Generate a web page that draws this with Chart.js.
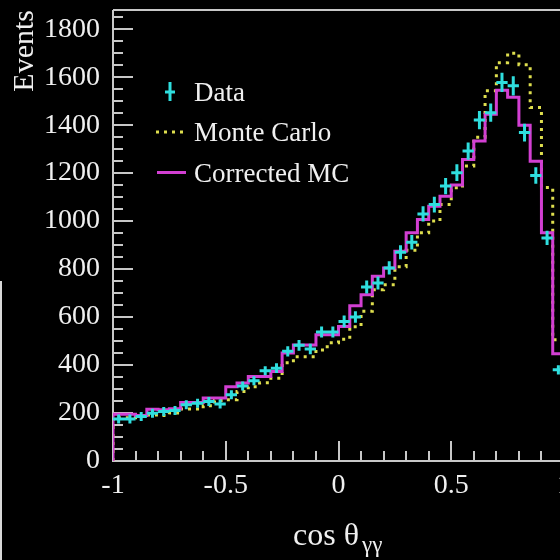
<!DOCTYPE html>
<html><head><meta charset="utf-8">
<script src="https://cdn.jsdelivr.net/npm/chart.js@4"></script>
<style>
html,body{margin:0;padding:0;background:#000;overflow:hidden;width:560px;height:560px}
#wrap{position:absolute;left:0;top:0;width:600px;height:560px}
</style>
</head><body><div id="wrap"><canvas id="c" width="600" height="560"></canvas></div>
<script>
// ---- data ----
const binEdges = [-1,-0.95,-0.9,-0.85,-0.8,-0.75,-0.7,-0.65,-0.6,-0.55,-0.5,-0.45,-0.4,-0.35,-0.3,-0.25,-0.2,-0.15,-0.1,-0.05,0,0.05,0.1,0.15,0.2,0.25,0.3,0.35,0.4,0.45,0.5,0.55,0.6,0.65,0.7,0.75,0.8,0.85,0.9,0.95,1];
const dataCounts = [175,175,185,199,206,210,234,241,248,238,276,313,335,376,387,457,482,467,538,538,582,600,725,742,805,870,912,1030,1069,1146,1202,1292,1421,1452,1578,1564,1369,1190,930,380];
const dataErrors = [13,13,14,14,14,15,15,16,16,15,17,18,18,19,20,21,22,22,23,23,24,24,27,27,28,29,30,32,33,34,35,36,38,38,40,40,37,34,30,19];
const monteCarlo = [180,180,185,192,190,200,217,217,230,252,255,290,310,326,345,410,435,435,463,493,508,560,624,714,735,810,878,951,1000,1069,1139,1230,1350,1543,1660,1700,1652,1474,1140,505];
const correctedMC = [195,195,190,216,214,218,244,244,263,263,310,325,352,352,373,450,484,484,526,526,561,647,693,770,805,874,951,1007,1062,1104,1150,1257,1334,1445,1545,1516,1400,1250,951,447];
const seriesNames = ['Data','Monte Carlo','Corrected MC'];
const xTickLabels = ['-1','-0.5','0','0.5','1'];
const yTickLabels = ['0','200','400','600','800','1000','1200','1400','1600','1800'];
const yTitle = 'Events';
const xTitleMain = 'cos θ';
const xTitleSub = 'γγ';

// ---- styles ----
const FONT = "'Liberation Serif','Times New Roman',serif";
const TXT = '#f0f0f0';
const AXIS = '#c8c8c8';
const CYAN = '#2fdede';
const MAGENTA = '#d23fd2';
const YELLOW = '#dede4e';

function stepPoints(vals){
  const pts=[{x:binEdges[0],y:0}];
  vals.forEach((v,i)=>pts.push({x:binEdges[i],y:v}));
  pts.push({x:binEdges[vals.length],y:vals[vals.length-1]});
  return pts;
}
const dataPoints = dataCounts.map((v,i)=>({x:(binEdges[i]+binEdges[i+1])/2,y:v}));

const framePlugin = {
  id:'frame',
  beforeDatasetsDraw(chart){
    const {ctx,chartArea:{left,right,top,bottom}} = chart;
    const xs=chart.scales.x, ys=chart.scales.y;
    ctx.save();
    ctx.strokeStyle=AXIS; ctx.lineWidth=2;
    ctx.beginPath();
    ctx.moveTo(left,top); ctx.lineTo(chart.width,top);
    ctx.moveTo(left,top); ctx.lineTo(left,bottom); ctx.lineTo(chart.width,bottom);
    ctx.stroke();
    ctx.beginPath();
    for(let k=0;k<=20;k++){
      const px=Math.round(xs.getPixelForValue(-1+k*0.1));
      const len=(k%5===0)?20:10;
      ctx.moveTo(px,bottom); ctx.lineTo(px,bottom-len);
    }
    for(let k=0;k*50<=ys.max;k++){
      const py=Math.round(ys.getPixelForValue(k*50));
      const len=(k%4===0)?20:10;
      ctx.moveTo(left,py); ctx.lineTo(left+len,py);
    }
    ctx.stroke();
    ctx.restore();
  },
  afterDatasetsDraw(chart){
    const {ctx,chartArea} = chart;
    const xs=chart.scales.x, ys=chart.scales.y;
    ctx.save();
    ctx.beginPath(); ctx.rect(chartArea.left,chartArea.top,chartArea.right-chartArea.left,chartArea.bottom-chartArea.top); ctx.clip();
    ctx.strokeStyle=CYAN; ctx.lineWidth=3; ctx.lineCap='butt';
    ctx.beginPath();
    dataCounts.forEach((v,i)=>{
      const cx=xs.getPixelForValue((binEdges[i]+binEdges[i+1])/2);
      const cy=ys.getPixelForValue(v);
      const e=Math.max(cy-ys.getPixelForValue(v+dataErrors[i]),4.5);
      const xl=xs.getPixelForValue(binEdges[i]), xr=xs.getPixelForValue(binEdges[i+1]);
      ctx.moveTo(xl,cy); ctx.lineTo(xr,cy);
      ctx.moveTo(cx,cy-e); ctx.lineTo(cx,cy+e);
    });
    ctx.stroke();
    ctx.restore();
  },
  afterDraw(chart){
    const ctx=chart.ctx;
    ctx.save();
    ctx.strokeStyle='#d8d8d8'; ctx.lineWidth=2;
    ctx.beginPath(); ctx.moveTo(1,281); ctx.lineTo(1,560); ctx.stroke();
    ctx.fillStyle=TXT; ctx.textBaseline='alphabetic'; ctx.textAlign='left';
    ctx.font='32px '+FONT;
    ctx.fillText(xTitleMain,293,545);
    const w=ctx.measureText(xTitleMain).width;
    ctx.font='23px '+FONT;
    ctx.fillText(xTitleSub,293+w+3,552);
    const ds=chart.data.datasets;
    ctx.font='27px '+FONT;
    ctx.strokeStyle=ds[0].borderColor; ctx.lineWidth=3;
    ctx.beginPath(); ctx.moveTo(170,82); ctx.lineTo(170,101); ctx.moveTo(165,92); ctx.lineTo(175,92); ctx.stroke();
    ctx.fillText(ds[0].label,194,100.5);
    ctx.strokeStyle=ds[2].borderColor; ctx.setLineDash([3,5]);
    ctx.beginPath(); ctx.moveTo(156,132); ctx.lineTo(186,132); ctx.stroke();
    ctx.setLineDash([]);
    ctx.fillText(ds[2].label,194,141);
    ctx.strokeStyle=ds[1].borderColor;
    ctx.beginPath(); ctx.moveTo(157,172.5); ctx.lineTo(186,172.5); ctx.stroke();
    ctx.fillText(ds[1].label,194,181.5);
    ctx.restore();
  }
};

new Chart(document.getElementById('c'),{
  type:'scatter',
  data:{datasets:[
    {label:seriesNames[0],data:dataPoints,showLine:false,pointRadius:0,borderColor:CYAN,backgroundColor:CYAN},
    {label:seriesNames[2],data:stepPoints(correctedMC),showLine:true,stepped:'before',pointRadius:0,borderColor:MAGENTA,borderWidth:3,fill:false},
    {label:seriesNames[1],data:stepPoints(monteCarlo),showLine:true,stepped:'before',pointRadius:0,borderColor:YELLOW,borderWidth:3,borderDash:[3,5],fill:false}
  ]},
  options:{
    responsive:false, animation:false, devicePixelRatio:1, events:[],
    layout:{padding:{top:10,right:36,left:0,bottom:0}},
    plugins:{legend:{display:false},tooltip:{enabled:false}},
    scales:{
      x:{type:'linear',min:-1,max:1,
        afterFit(s){s.height=99; s.paddingLeft=0; s.paddingRight=0;},
        grid:{display:false,drawTicks:false},border:{display:false},
        ticks:{stepSize:0.5,color:TXT,font:{family:FONT,size:28},padding:8,maxRotation:0,autoSkip:false,
          callback:(v,i)=>xTickLabels[i]}
      },
      y:{type:'linear',min:0,max:1880,
        afterFit(s){s.width=113; s.paddingTop=0; s.paddingBottom=0;},
        grid:{display:false,drawTicks:false},border:{display:false},
        ticks:{stepSize:200,color:TXT,font:{family:FONT,size:28,lineHeight:0.6},padding:13,autoSkip:false,
          callback:(v)=>(Math.abs(v%200)<1e-6 && yTickLabels[Math.round(v/200)]!==undefined)?yTickLabels[Math.round(v/200)]:''},
        title:{display:true,text:yTitle,align:'end',color:TXT,font:{family:FONT,size:30},padding:{top:7,bottom:0}}
      }
    }
  },
  plugins:[framePlugin]
});
</script>
</body></html>
